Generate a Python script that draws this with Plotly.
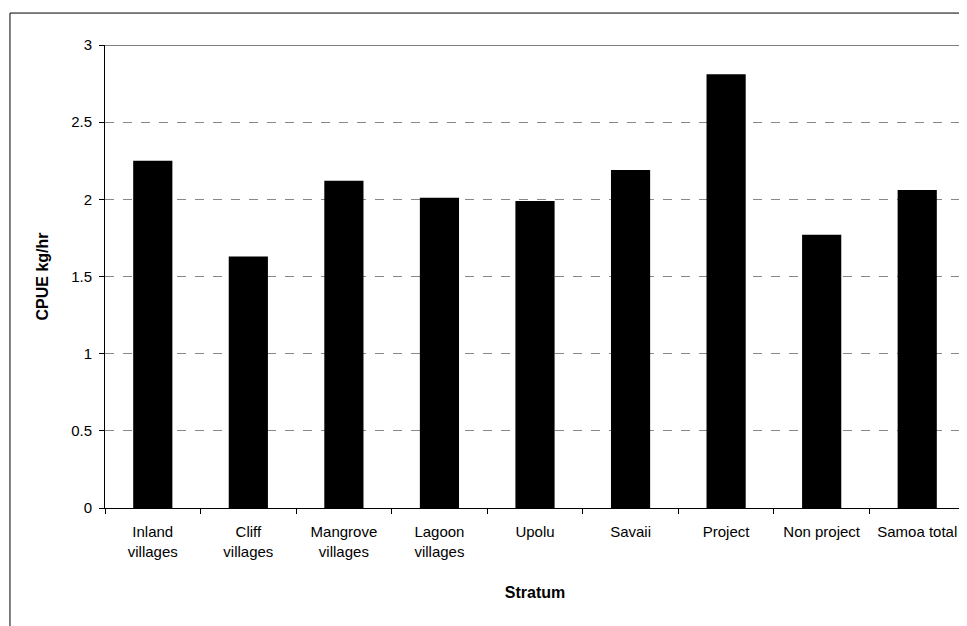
import plotly.graph_objects as go

categories = ["Inland<br>villages", "Cliff<br>villages", "Mangrove<br>villages", "Lagoon<br>villages",
              "Upolu", "Savaii", "Project", "Non project", "Samoa total"]
cpue = [2.25, 1.63, 2.12, 2.01, 1.99, 2.19, 2.81, 1.77, 2.06]
y_ticks = [0, 0.5, 1, 1.5, 2, 2.5, 3]
y_tick_labels = ["0", "0.5", "1", "1.5", "2", "2.5", "3"]

FONT = "Liberation Sans, Arial, sans-serif"

fig = go.Figure(go.Bar(x=categories, y=cpue, marker=dict(color="black", line=dict(width=0)),
                       width=0.41))

fig.update_layout(
    width=959, height=618,
    margin=dict(l=97, r=2, t=37, b=118),
    paper_bgcolor="white", plot_bgcolor="white",
    font=dict(family=FONT, size=14, color="black"),
    showlegend=False,
    xaxis=dict(
        showline=True, linecolor="black", linewidth=1,
        ticks="outside", tickson="boundaries", ticklen=5, tickcolor="black",
        tickfont=dict(size=15), ticklabelstandoff=10,
        title=dict(text="<b>Stratum</b>", font=dict(size=16), standoff=28),
        showgrid=False,
    ),
    yaxis=dict(
        range=[0, 3], tickvals=y_ticks, ticktext=y_tick_labels,
        showline=True, linecolor="black", linewidth=1,
        ticks="outside", ticklen=5, tickcolor="black",
        tickfont=dict(size=15), ticklabelstandoff=4,
        showgrid=True, gridcolor="#888888", griddash="dash", gridwidth=1,
        title=dict(text="<b>CPUE kg/hr</b>", font=dict(size=16), standoff=18),
        zeroline=False,
    ),
    shapes=[
        dict(type="line", xref="paper", yref="y", x0=0, x1=1, y0=3, y1=3,
             line=dict(color="black", width=1)),
        dict(type="line", xref="paper", yref="paper", x0=1, x1=1, y0=0, y1=1,
             line=dict(color="#666666", width=1, dash="dash")),
        dict(type="rect", xref="paper", yref="paper", x0=-0.1105, x1=1.05, y0=-0.4, y1=1.069,
             line=dict(color="black", width=1), layer="below"),
    ],
)

fig.write_html("out.html")
